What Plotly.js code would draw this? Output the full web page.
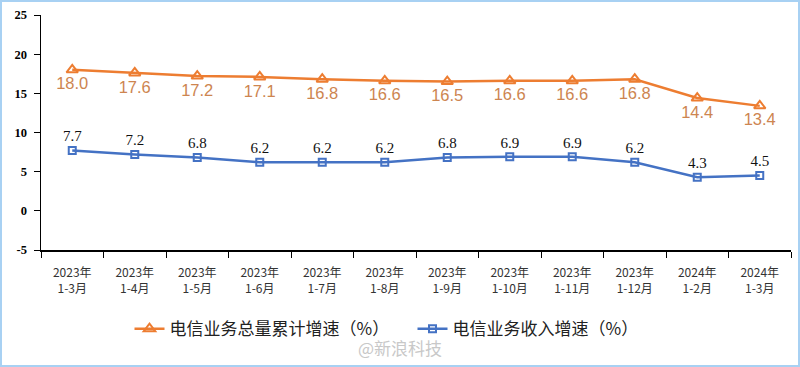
<!DOCTYPE html>
<html><head><meta charset="utf-8">
<script src="https://cdn.plot.ly/plotly-3.0.1.min.js"></script>
<style>
html,body{margin:0;padding:0;background:#fff;}
#wrap{position:relative;width:800px;height:367px;}
#chart{width:800px;height:367px;}
#frame{position:absolute;left:0;top:0;width:800px;height:367px;box-sizing:border-box;border:2px solid #a8d1f3;pointer-events:none;}
</style></head>
<body>
<div id="wrap"><div id="chart"></div><div id="frame"></div></div>
<script>
const categories = ["2023年<br>1-3月","2023年<br>1-4月","2023年<br>1-5月","2023年<br>1-6月","2023年<br>1-7月","2023年<br>1-8月","2023年<br>1-9月","2023年<br>1-10月","2023年<br>1-11月","2023年<br>1-12月","2024年<br>1-2月","2024年<br>1-3月"];
const volumeGrowth = [18.0,17.6,17.2,17.1,16.8,16.6,16.5,16.6,16.6,16.8,14.4,13.4];
const revenueGrowth = [7.7,7.2,6.8,6.2,6.2,6.2,6.8,6.9,6.9,6.2,4.3,4.5];
const seriesNames = ["电信业务总量累计增速（%）","电信业务收入增速（%）"];
const yTicks = [-5,0,5,10,15,20,25];
const yTickText = ["-5","0","5","10","15","20","25"];

const traces = [
  {x:categories, y:volumeGrowth, name:seriesNames[0], type:"scatter", mode:"lines+markers+text",
   line:{color:"#ED7D31", width:2.5},
   marker:{symbol:"triangle-up-open", size:10, color:"#ED7D31", line:{width:2, color:"#ED7D31"}},
   text:volumeGrowth.map(v=>v.toFixed(1)), textposition:"bottom center",
   textfont:{family:"Liberation Sans, Arial, sans-serif", size:16.5, color:"#CD8550"}},
  {x:categories, y:revenueGrowth, name:seriesNames[1], type:"scatter", mode:"lines+markers+text",
   line:{color:"#4472C4", width:2.5},
   marker:{symbol:"square-open", size:7, color:"#4472C4", line:{width:2, color:"#4472C4"}},
   text:revenueGrowth.map(v=>v.toFixed(1)), textposition:"top center",
   textfont:{family:"Liberation Serif, Times New Roman, serif", size:15, color:"#111"}}
];

const layout = {
  width:800, height:367,
  margin:{l:41, r:9, t:15, b:117},
  paper_bgcolor:"#fff", plot_bgcolor:"#fff",
  showlegend:true,
  legend:{orientation:"h", x:0.118, xanchor:"left", y:-0.26, yanchor:"top", entrywidth:238, entrywidthmode:"pixels",
          font:{family:"Noto Sans CJK SC, sans-serif", size:17, color:"#222"}, traceorder:"normal"},
  xaxis:{type:"category", range:[-0.5,11.5], showline:true, linecolor:"#000", linewidth:1.5, ticks:"outside", ticklen:6, tickcolor:"#000",
         tickson:"boundaries", showgrid:false, zeroline:false,
         tickfont:{family:"Noto Sans CJK SC, sans-serif", size:12, color:"#333"}, ticklabelstandoff:11},
  yaxis:{range:[-5,25], tickvals:yTicks, ticktext:yTickText, showline:true, linecolor:"#000", linewidth:1.5, ticks:"outside", ticklen:6, tickcolor:"#000",
         showgrid:false, zeroline:false, ticklabelstandoff:4,
         tickfont:{family:"Liberation Serif, Times New Roman, serif", size:12.5, color:"#000", weight:"bold"}},
  annotations:[{xref:"paper", yref:"paper", x:0.479, y:-0.415, xanchor:"center", yanchor:"middle", showarrow:false,
     text:"@新浪科技", font:{family:"Noto Sans CJK SC, sans-serif", size:17, color:"#c8c8c8"}}]
};
Plotly.newPlot("chart", traces, layout, {displayModeBar:false, staticPlot:true});
</script>
</body></html>
